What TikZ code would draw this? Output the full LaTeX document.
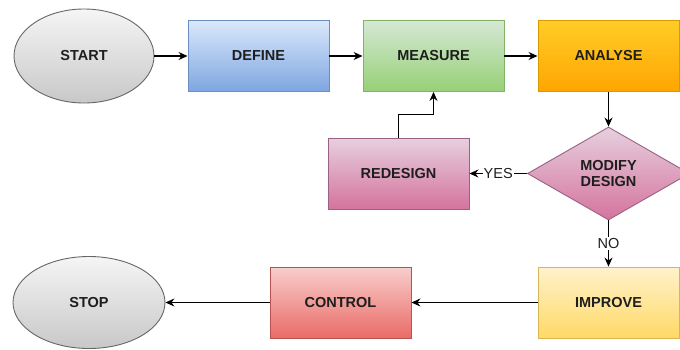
\documentclass[tikz,border=0pt]{standalone}
\usepackage{fontspec}
\setmainfont{Liberation Sans}
\usetikzlibrary{shapes.geometric,arrows.meta}

% gradient fills (light top, saturated bottom)
\definecolor{grayT}{HTML}{F5F5F5}\definecolor{grayB}{HTML}{C8C8C8}\definecolor{grayL}{HTML}{666666}
\definecolor{blueT}{HTML}{DAE8FC}\definecolor{blueB}{HTML}{7EA6E0}\definecolor{blueL}{HTML}{6C8EBF}
\definecolor{greenT}{HTML}{D5E8D4}\definecolor{greenB}{HTML}{97D077}\definecolor{greenL}{HTML}{82B366}
\definecolor{orangeT}{HTML}{FFCD28}\definecolor{orangeB}{HTML}{FFA500}\definecolor{orangeL}{HTML}{D79B00}
\definecolor{pinkT}{HTML}{E6D0DE}\definecolor{pinkB}{HTML}{D5739D}\definecolor{pinkL}{HTML}{996185}
\definecolor{yellowT}{HTML}{FFF2CC}\definecolor{yellowB}{HTML}{FFD966}\definecolor{yellowL}{HTML}{D6B656}
\definecolor{redT}{HTML}{F8CECC}\definecolor{redB}{HTML}{EA6B66}\definecolor{redL}{HTML}{B85450}
\definecolor{ink}{HTML}{1E1E1E}

\tikzset{
  base/.style={inner sep=0pt, line width=0.9pt, text=ink,
    font=\fontsize{14.5}{16.5}\selectfont\bfseries, align=center},
  stepbox/.style={base, rectangle, minimum width=141pt, minimum height=71pt},
  terminal/.style={base, ellipse, draw=grayL, top color=grayT, bottom color=grayB},
  decision/.style={base, diamond, aspect=1.75, minimum width=162pt, minimum height=93pt},
  flow/.style={line width=1.2pt, -{Stealth[length=9pt,width=8pt,inset=3pt]}},
  tag/.style={fill=white, inner sep=1pt, text=ink, font=\fontsize{14.5}{16.5}\selectfont}
}

\begin{document}
\begin{tikzpicture}[x=1pt, y=-1pt]
  \useasboundingbox (0,0) rectangle (680,349);

  % top row
  \node[terminal, minimum width=140pt, minimum height=94pt] (start) at (84,56) {START};
  \node[stepbox, draw=blueL, top color=blueT, bottom color=blueB] (define) at (258.5,56) {DEFINE};
  \node[stepbox, draw=greenL, top color=greenT, bottom color=greenB] (measure) at (433.5,56) {MEASURE};
  \node[stepbox, draw=orangeL, top color=orangeT, bottom color=orangeB] (analyse) at (608.5,56) {ANALYSE};

  % middle row
  \node[stepbox, draw=pinkL, top color=pinkT, bottom color=pinkB] (redesign) at (398.5,173.5) {REDESIGN};
  \node[decision, draw=pinkL, top color=pinkT, bottom color=pinkB] (modify) at (608.5,173.5) {MODIFY\\DESIGN};

  % bottom row
  \node[stepbox, draw=yellowL, top color=yellowT, bottom color=yellowB] (improve) at (608.5,302.5) {IMPROVE};
  \node[stepbox, draw=redL, top color=redT, bottom color=redB] (control) at (340.5,302.5) {CONTROL};
  \node[terminal, minimum width=152pt, minimum height=92pt] (stop) at (89,302.5) {STOP};

  % connectors
  \draw[flow] (start.east) -- (define.west);
  \draw[flow] (define.east) -- (measure.west);
  \draw[flow] (measure.east) -- (analyse.west);
  \draw[flow] (analyse.south) -- (modify.north);
  \draw[flow] (modify.west) -- node[tag] {YES} (redesign.east);
  \draw[flow] (redesign.north) -- ++(0,-23) -| (measure.south);
  \draw[flow] (modify.south) -- node[tag] {NO} (improve.north);
  \draw[flow] (improve.west) -- (control.east);
  \draw[flow] (control.west) -- (stop.east);
\end{tikzpicture}
\end{document}
